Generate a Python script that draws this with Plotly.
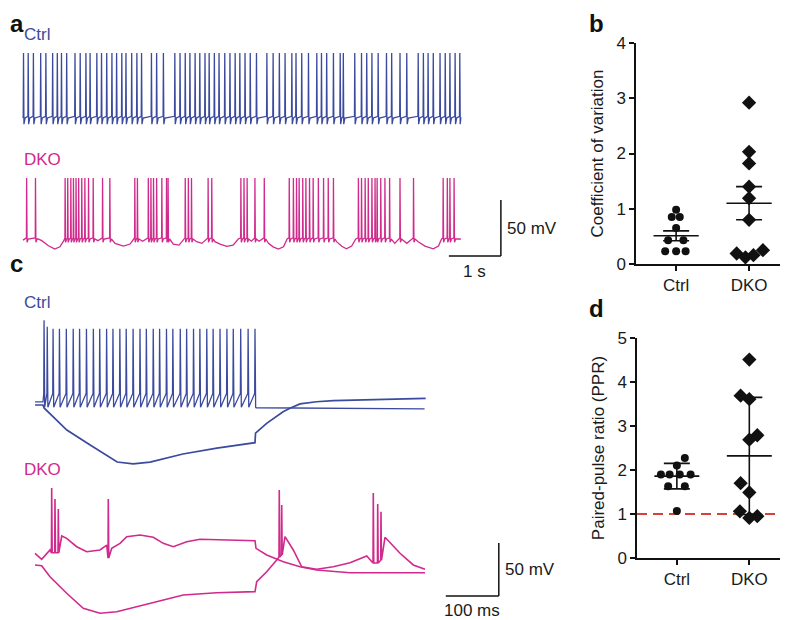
import plotly.graph_objects as go

W, H = 788, 620          # target picture size
OFF = 8                  # page body margin of the browser
FW, FH = W - OFF, H - OFF  # figure size that fits the window
FONT = "Liberation Sans, Arial, Helvetica, sans-serif"
BLUE = "#3B4A9E"
MAGENTA = "#D02A8C"
RED = "#D8403C"
BLACK = "#111111"

# ---------------- data ----------------
# panel a: spontaneous firing (time in s, voltage in mV)
a_ctrl_spike_t = [0.01, 0.10, 0.20, 0.34, 0.44, 0.57, 0.66, 0.74, 0.84, 1.00, 1.10, 1.21, 1.29, 1.42,
                  1.51, 1.61, 1.71, 1.80, 1.90, 1.98, 2.09, 2.19, 2.28, 2.47, 2.57, 2.70, 2.92, 3.02,
                  3.12, 3.21, 3.31, 3.40, 3.50, 3.58, 3.68, 3.77, 3.88, 3.98, 4.08, 4.17, 4.27, 4.37,
                  4.49, 4.69, 4.81, 4.93, 5.04, 5.17, 5.25, 5.36, 5.49, 5.65, 5.74, 5.84, 5.97, 6.10,
                  6.16, 6.38, 6.51, 6.61, 6.71, 6.83, 6.99, 7.09, 7.25, 7.38, 7.60, 7.70, 7.79, 7.89,
                  8.02, 8.12, 8.21, 8.31, 8.40]
a_ctrl_base_t = [0.0, 8.42]
a_ctrl_base_v = [-58.0, -58.0]

a_dko_spike_t = [0.07, 0.24, 0.81, 0.86, 0.92, 0.97, 1.02, 1.07, 1.13, 1.19, 1.26, 1.35, 1.53, 1.67,
                 2.15, 2.20, 2.41, 2.46, 2.51, 2.57, 2.67, 2.76, 2.79, 3.12, 3.18, 3.24, 3.56, 3.63,
                 4.19, 4.25, 4.31, 4.46, 4.64, 5.12, 5.20, 5.26, 5.31, 5.38, 5.44, 5.51, 5.58, 5.68,
                 5.78, 5.87, 5.97, 6.45, 6.51, 6.58, 6.64, 6.71, 6.77, 6.81, 6.88, 6.96, 7.05, 7.25,
                 7.51, 8.08, 8.16, 8.21, 8.29]
a_dko_base_t = [0.00, 0.29, 0.36, 0.49, 0.61, 0.71, 0.79, 1.44, 1.77, 1.93, 2.06, 2.13, 2.30,
                2.89, 3.00, 3.10, 3.34, 3.44, 3.53, 3.69, 3.79, 3.92, 4.04, 4.14, 4.39, 4.54,
                4.72, 4.81, 4.91, 5.01, 5.08, 6.03, 6.13, 6.22, 6.32, 6.40, 7.15, 7.38,
                7.60, 7.73, 7.89, 7.99, 8.05, 8.42]
a_dko_base_v = [-55.0, -54.0, -55.5, -60.0, -63.0, -61.0, -55.0, -55.5, -58.0, -60.3, -58.5, -54.0, -56.0,
                -58.5, -59.4, -54.0, -56.4, -57.9, -54.0, -56.4, -58.5, -60.5, -59.4, -54.0, -56.0, -56.0,
                -57.9, -61.0, -63.0, -61.0, -54.0, -56.4, -60.5, -62.8, -60.3, -54.0, -57.9, -57.9,
                -56.4, -60.3, -62.8, -60.3, -54.0, -54.0]

# panel c: current-step responses (time in ms, voltage in mV)
c_ctrl_spike_t = [2, 8, 19, 31, 44, 57, 69, 82, 95, 107, 120, 132, 145, 157, 170, 183, 195, 208, 220,
                  233, 245, 259, 271, 284, 296, 309, 321, 334, 347, 359, 373, 387, 400]
c_ctrl_spike_peak = [16, 10, 8, 8, 8, 8, 8, 8, 8, 8, 8, 8, 8, 8, 8, 8, 8, 8, 8, 8, 8, 8, 8, 8, 8, 8,
                     8, 8, 8, 8, 8, 8, 8]
c_ctrl_dep_base_t = [-15, 0, 402, 720]
c_ctrl_dep_base_v = [-61.0, -61.0, -66.5, -67.5]
c_ctrl_hyp_t = [-15, 0, 2, 45, 89, 140, 170, 202, 264, 328, 400, 401, 422, 453, 466, 485, 516, 548, 722]
c_ctrl_hyp_v = [-63.9, -63.9, -66.7, -87.5, -101.6, -117.7, -119.5, -117.7, -110.1, -104.5, -99.4,
                -90.5, -81.2, -70.2, -67.0, -62.9, -60.8, -59.8, -57.6]

c_dko_dep_t = [-15.1, -2.5, 13.2, 35.3, 44.7, 63.6, 82.5, 107.5, 120.2, 129.6, 145.3, 157.9, 183.0,
               208.1, 227.0, 245.8, 271.1, 296.2, 359.1, 400.0, 401.9, 422.1, 453.4, 484.9, 516.4,
               579.2, 720.8]
c_dko_dep_v = [-56.5, -62.2, -53.4, -40.2, -42.4, -50.3, -55.0, -53.4, -48.7, -51.8, -47.1, -40.8, -39.2,
               -41.4, -47.1, -50.3, -45.6, -43.3, -44.0, -44.6, -51.8, -58.1, -64.4, -69.2, -72.3,
               -74.8, -74.8]
c_dko_dep_spike_t = [16.4, 22.6, 28.9, 123.2]
c_dko_dep_spike_peak = [5.1, -5.3, -14.7, -5.3]
c_dko_dep_spike_trough = [-56.0, -56.0, -56.0, -61.0]

c_dko_hyp_t = [-15.1, -2.5, 13.2, 44.7, 76.0, 107.5, 139.1, 201.9, 264.7, 327.7, 400.0, 403.2, 422.1,
               440.9, 456.6, 472.3, 488.1, 516.4, 547.7, 579.2, 610.8, 645.3, 673.6, 698.7, 720.8]
c_dko_hyp_v = [-67.5, -68.2, -78.6, -94.2, -108.4, -113.1, -111.6, -103.7, -95.8, -93.7, -92.7, -83.3,
               -73.9, -62.8, -40.8, -53.4, -69.2, -71.6, -69.2, -65.4, -59.1, -41.4, -56.5, -67.5, -71.6]
c_dko_hyp_spike_t = [445.8, 450.4, 623.2, 631.5, 637.7]
c_dko_hyp_spike_peak = [3.2, -10.9, 0.4, -10.0, -17.3]
c_dko_hyp_spike_trough = [-60.0, -58.0, -65.7, -65.7, -63.0]

# panel b: coefficient of variation
groups = ["Ctrl", "DKO"]
b_ctrl = [0.98, 0.85, 0.85, 0.65, 0.43, 0.43, 0.23, 0.23, 0.23]
b_ctrl_jit = [0.0, -0.06, 0.05, 0.0, -0.11, 0.10, -0.15, 0.0, 0.13]
b_dko = [2.92, 2.03, 1.82, 1.40, 1.19, 0.80, 0.19, 0.12, 0.16, 0.25]
b_dko_jit = [0.0, 0.0, 0.0, 0.0, 0.0, 0.0, -0.17, -0.05, 0.06, 0.19]
b_mean = [0.51, 1.10]
b_err = [0.09, 0.30]

# panel d: paired-pulse ratio
d_ctrl = [2.27, 2.10, 1.90, 1.90, 1.90, 1.90, 1.63, 1.63, 1.07]
d_ctrl_jit = [0.11, 0.0, -0.22, -0.10, 0.04, 0.19, -0.12, 0.11, 0.0]
d_dko = [4.51, 3.69, 3.61, 2.79, 2.69, 1.70, 1.49, 1.06, 0.91, 0.95]
d_dko_jit = [0.0, -0.12, 0.0, 0.11, 0.0, -0.12, 0.0, -0.13, 0.0, 0.11]
d_mean = [1.86, 2.32]
d_err = [0.29, 1.33]
d_ref = 1.0


# ---------------- helpers (window pixels -> paper fractions) ----------------
def fx(px):
    return min(max((px - OFF) / FW, 0.0), 1.0)


def fy(py):
    return min(max(1 - (py - OFF) / FH, 0.0), 1.0)


def ax(px):   # unclamped, for annotations
    return (px - OFF) / FW


def ay(py):
    return 1 - (py - OFF) / FH


def yrange(top_px, bot_px, v_ref, py_ref, px_per_unit):
    return [v_ref - (bot_px - py_ref) / px_per_unit, v_ref + (py_ref - top_px) / px_per_unit]


def xrange_(left_px, right_px, t_ref, px_ref, px_per_unit):
    return [t_ref + (left_px - px_ref) / px_per_unit, t_ref + (right_px - px_ref) / px_per_unit]


def spike_trace(base_t, base_v, spike_t, peaks, pre, troughs, post, d_pre, d_ahp, d_post):
    pts = list(zip(base_t, base_v))
    for i, ts in enumerate(spike_t):
        pk = peaks[i] if isinstance(peaks, list) else peaks
        tr = troughs[i] if isinstance(troughs, list) else troughs
        pr = tr if pre is None else pre
        pts += [(ts - d_pre, pr), (ts, pk), (ts + d_ahp, tr)]
        if post is not None:
            pts.append((ts + d_post, post))
    pts.sort()
    return [p[0] for p in pts], [p[1] for p in pts]


fig = go.Figure()

# ---- panel a ----
t, v = spike_trace(a_ctrl_base_t, a_ctrl_base_v, a_ctrl_spike_t, 0.0, -56.5, -63.5, -58.0, 0.006, 0.008, 0.03)
fig.add_trace(go.Scatter(x=t, y=v, mode="lines", line=dict(color=BLUE, width=1.3), xaxis="x", yaxis="y"))
t, v = spike_trace(a_dko_base_t, a_dko_base_v, a_dko_spike_t, 0.5, -53.0, -57.0, -54.0, 0.004, 0.008, 0.03)
fig.add_trace(go.Scatter(x=t, y=v, mode="lines", line=dict(color=MAGENTA, width=1.3), xaxis="x", yaxis="y2"))

# ---- panel c ----
t, v = spike_trace(c_ctrl_dep_base_t, c_ctrl_dep_base_v, c_ctrl_spike_t, c_ctrl_spike_peak, -53.0, -66.0,
                   None, 0.6, 1.2, 0)
fig.add_trace(go.Scatter(x=t, y=v, mode="lines", line=dict(color=BLUE, width=1.3), xaxis="x3", yaxis="y3"))
fig.add_trace(go.Scatter(x=c_ctrl_hyp_t, y=c_ctrl_hyp_v, mode="lines", line=dict(color=BLUE, width=1.7),
                         xaxis="x3", yaxis="y3"))
t, v = spike_trace(c_dko_dep_t, c_dko_dep_v, c_dko_dep_spike_t, c_dko_dep_spike_peak, None,
                   c_dko_dep_spike_trough, None, 0.5, 0.9, 0)
fig.add_trace(go.Scatter(x=t, y=v, mode="lines", line=dict(color=MAGENTA, width=1.6), xaxis="x3", yaxis="y4"))
t, v = spike_trace(c_dko_hyp_t, c_dko_hyp_v, c_dko_hyp_spike_t, c_dko_hyp_spike_peak, None,
                   c_dko_hyp_spike_trough, None, 0.5, 0.9, 0)
fig.add_trace(go.Scatter(x=t, y=v, mode="lines", line=dict(color=MAGENTA, width=1.6), xaxis="x3", yaxis="y4"))


# ---- panels b & d ----
def dot_panel(xa, ya, ctrl, ctrl_jit, dko, dko_jit, means, errs):
    fig.add_trace(go.Scatter(x=[1 + j for j in ctrl_jit], y=ctrl, mode="markers",
                             marker=dict(symbol="circle", size=8, color=BLACK), xaxis=xa, yaxis=ya))
    fig.add_trace(go.Scatter(x=[2 + j for j in dko_jit], y=dko, mode="markers",
                             marker=dict(symbol="diamond", size=11, color=BLACK), xaxis=xa, yaxis=ya))
    for i, (m, e) in enumerate(zip(means, errs)):
        c = i + 1
        fig.add_trace(go.Scatter(x=[c - 0.31, c + 0.31], y=[m, m], mode="lines",
                                 line=dict(color=BLACK, width=1.6), xaxis=xa, yaxis=ya))
        fig.add_trace(go.Scatter(x=[c], y=[m], mode="markers", marker=dict(size=1, color="rgba(0,0,0,0)"),
                                 error_y=dict(type="data", array=[e], width=13, thickness=1.6, color=BLACK),
                                 xaxis=xa, yaxis=ya))


dot_panel("x5", "y5", b_ctrl, b_ctrl_jit, b_dko, b_dko_jit, b_mean, b_err)
dot_panel("x6", "y6", d_ctrl, d_ctrl_jit, d_dko, d_dko_jit, d_mean, d_err)

# ---------------- axes ----------------
hidden = dict(visible=False, showgrid=False, zeroline=False, automargin=False)
A_PX_S, A_PX_MV = 52.0, 1.12
C_PX_MS, C_PX_MV = 0.53, 1.06
tick_font = dict(family=FONT, size=17, color="#1a1a1a")

lay = dict(
    xaxis=dict(hidden, domain=[fx(OFF), fx(560)], range=xrange_(OFF, 560, 0.0, 23, A_PX_S), anchor="y"),
    yaxis=dict(hidden, domain=[fy(135), fy(40)], range=yrange(40, 135, -58.0, 118, A_PX_MV), anchor="x"),
    yaxis2=dict(hidden, domain=[fy(290), fy(160)], range=yrange(160, 290, -54.0, 239, A_PX_MV), anchor="x"),
    xaxis3=dict(hidden, domain=[fx(OFF), fx(560)], range=xrange_(OFF, 560, 0.0, 43, C_PX_MS), anchor="y3"),
    yaxis3=dict(hidden, domain=[fy(475), fy(300)], range=yrange(300, 475, -62.0, 403, C_PX_MV), anchor="x3"),
    yaxis4=dict(hidden, domain=[fy(620), fy(475)], range=yrange(475, 620, -60.0, 557, C_PX_MV), anchor="x3"),
)
common_x = dict(showgrid=False, zeroline=False, showline=True, linewidth=1.5, linecolor=BLACK,
                ticks="outside", ticklen=5, tickwidth=1.5, tickcolor=BLACK, tickvals=[1, 2],
                ticktext=groups, tickfont=tick_font, range=[0.45, 2.52], automargin=False)
common_y = dict(showgrid=False, zeroline=False, showline=True, linewidth=1.5, linecolor=BLACK,
                ticks="outside", ticklen=5, tickwidth=1.5, tickcolor=BLACK, tickfont=tick_font,
                automargin=False)
lay["xaxis5"] = dict(common_x, domain=[fx(636), fx(787)], anchor="y5")
lay["yaxis5"] = dict(common_y, domain=[fy(264), fy(43)], range=[0, 4], tickvals=[0, 1, 2, 3, 4], anchor="x5",
                     title=dict(text="Coefficient of variation", font=dict(family=FONT, size=17, color="#1a1a1a"),
                                standoff=8))
lay["xaxis6"] = dict(common_x, domain=[fx(637), fx(787)], anchor="y6")
lay["yaxis6"] = dict(common_y, domain=[fy(558), fy(338)], range=[0, 5], tickvals=[0, 1, 2, 3, 4, 5], anchor="x6",
                     title=dict(text="Paired-pulse ratio (PPR)", font=dict(family=FONT, size=17, color="#1a1a1a"),
                                standoff=8))

# ---------------- shapes (scale bars, reference line) ----------------
sb = dict(color=BLACK, width=1.5)
A_BAR_T, A_BAR_V, A_CORNER = 1.0, 50.0, (9.19, -69.2)
C_BAR_T, C_BAR_V, C_CORNER = 100.0, 50.0, (860.0, -96.8)
shapes = [
    dict(type="line", xref="x", yref="y2", x0=A_CORNER[0], x1=A_CORNER[0], y0=A_CORNER[1],
         y1=A_CORNER[1] + A_BAR_V, line=sb),
    dict(type="line", xref="x", yref="y2", x0=A_CORNER[0] - A_BAR_T, x1=A_CORNER[0], y0=A_CORNER[1],
         y1=A_CORNER[1], line=sb),
    dict(type="line", xref="x3", yref="y4", x0=C_CORNER[0], x1=C_CORNER[0], y0=C_CORNER[1],
         y1=C_CORNER[1] + C_BAR_V, line=sb),
    dict(type="line", xref="x3", yref="y4", x0=C_CORNER[0] - C_BAR_T, x1=C_CORNER[0], y0=C_CORNER[1],
         y1=C_CORNER[1], line=sb),
    dict(type="line", xref="x6 domain", yref="y6", x0=0, x1=1, y0=d_ref, y1=d_ref,
         line=dict(color=RED, width=1.8, dash="10px,6px"), layer="below"),
]

txt = dict(family=FONT, size=17, color="#1a1a1a")
letter = dict(family=FONT, size=24, color=BLACK)
annotations = [
    dict(text="<b>a</b>", x=ax(OFF), y=ay(23), xanchor="left", yanchor="middle", font=letter),
    dict(text="<b>b</b>", x=ax(587), y=ay(23), xanchor="left", yanchor="middle", font=letter),
    dict(text="<b>c</b>", x=ax(OFF), y=ay(263), xanchor="left", yanchor="middle", font=letter),
    dict(text="<b>d</b>", x=ax(587), y=ay(308), xanchor="left", yanchor="middle", font=letter),
    dict(text="Ctrl", x=ax(22), y=ay(35), xanchor="left", yanchor="middle", font=dict(family=FONT, size=17, color=BLUE)),
    dict(text="DKO", x=ax(22), y=ay(159), xanchor="left", yanchor="middle", font=dict(family=FONT, size=17, color=MAGENTA)),
    dict(text="Ctrl", x=ax(22), y=ay(302), xanchor="left", yanchor="middle", font=dict(family=FONT, size=17, color=BLUE)),
    dict(text="DKO", x=ax(22), y=ay(469), xanchor="left", yanchor="middle", font=dict(family=FONT, size=17, color=MAGENTA)),
    dict(text="50 mV", xref="x", yref="y2", x=A_CORNER[0], y=A_CORNER[1] + A_BAR_V / 2, xanchor="left",
         yanchor="middle", xshift=4, font=txt),
    dict(text="1 s", xref="x", yref="y2", x=A_CORNER[0] - A_BAR_T / 2, y=A_CORNER[1], xanchor="center",
         yanchor="top", yshift=-4, font=txt),
    dict(text="50 mV", xref="x3", yref="y4", x=C_CORNER[0], y=C_CORNER[1] + C_BAR_V / 2, xanchor="left",
         yanchor="middle", xshift=4, font=txt),
    dict(text="100 ms", xref="x3", yref="y4", x=C_CORNER[0] - C_BAR_T / 2, y=C_CORNER[1], xanchor="center",
         yanchor="top", yshift=-3, font=txt),
]
for an in annotations:
    an.setdefault("xref", "paper")
    an.setdefault("yref", "paper")
    an["showarrow"] = False

fig.update_layout(width=FW, height=FH, margin=dict(l=0, r=0, t=0, b=0, pad=0, autoexpand=False),
                  showlegend=False, paper_bgcolor="white", plot_bgcolor="white", font=dict(family=FONT),
                  shapes=shapes, annotations=annotations, **lay)
fig.write_html("out.html")
